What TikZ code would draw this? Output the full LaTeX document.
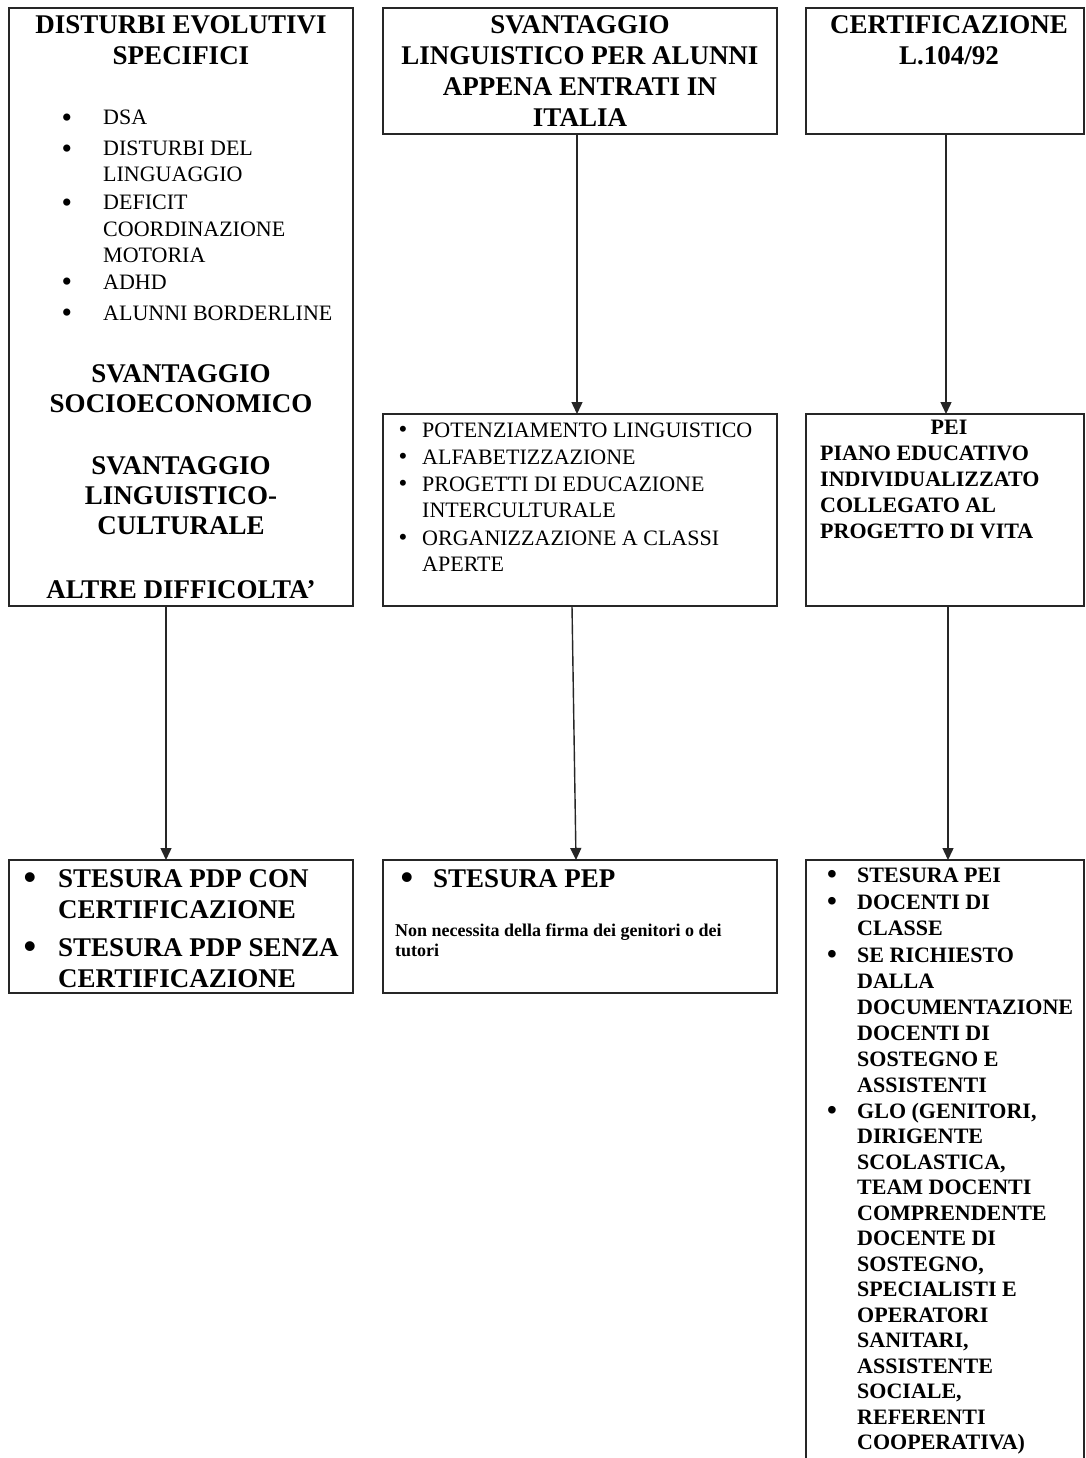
\documentclass[tikz,border=0pt]{standalone}
\usepackage{fontspec}
\setmainfont{Liberation Serif}
\usetikzlibrary{arrows.meta}
\begin{document}
\begin{tikzpicture}[x=1pt,y=-1pt,
  box/.style={draw=black!85, line width=1.4pt, inner sep=0pt, outer sep=0pt, anchor=north west},
  hd/.style={inner sep=0pt, anchor=base, font=\fontsize{27}{31}\selectfont\bfseries},
  hdl/.style={inner sep=0pt, anchor=base west, font=\fontsize{27}{31}\selectfont\bfseries},
  lst/.style={inner sep=0pt, anchor=base west, font=\fontsize{22}{26}\selectfont},
  lstb/.style={inner sep=0pt, anchor=base west, font=\fontsize{22}{26}\selectfont\bfseries},
  bula/.style={inner sep=0pt, anchor=base, yshift=-2.6pt, font=\fontsize{30}{30}\selectfont},
  bulm/.style={inner sep=0pt, anchor=base, yshift=-0.6pt, font=\fontsize{25}{25}\selectfont},
  bulc/.style={inner sep=0pt, anchor=base, yshift=-1.9pt, font=\fontsize{28}{28}\selectfont\bfseries},
  bulbig/.style={inner sep=0pt, anchor=base, yshift=-2.9pt, font=\fontsize{36}{36}\selectfont\bfseries},
  small/.style={inner sep=0pt, anchor=base west, font=\fontsize{18}{20}\selectfont\bfseries},
  arr/.style={draw=black!85, line width=1.4pt, -{Triangle[length=12pt,width=11pt]}},
]
\useasboundingbox (0,0) rectangle (1085,1458);
\fill[white] (0,0) rectangle (1085,1458);
\clip (0,0) rectangle (1085,1458);

% boxes
\node[box, minimum width=344pt, minimum height=598pt] (a1) at (9,8) {};
\node[box, minimum width=394pt, minimum height=126pt] (b1) at (383,8) {};
\node[box, minimum width=278pt, minimum height=126pt] (c1) at (806,8) {};
\node[box, minimum width=394pt, minimum height=192pt] (b2) at (383,414) {};
\node[box, minimum width=278pt, minimum height=192pt] (c2) at (806,414) {};
\node[box, minimum width=344pt, minimum height=133pt] (a3) at (9,860) {};
\node[box, minimum width=394pt, minimum height=133pt] (b3) at (383,860) {};
\node[box, minimum width=278pt, minimum height=640pt] (c3) at (806,860) {};

% arrows
\draw[arr] ([xshift=-15pt]a1.south) -- ([xshift=-15pt]a3.north);
\draw[arr] ([xshift=-3pt]b1.south) -- ([xshift=-3pt]b2.north);
\draw[arr] ([xshift=-8pt]b2.south) -- ([xshift=-4pt]b3.north);
\draw[arr] ([xshift=1pt]c1.south) -- ([xshift=1pt]c2.north);
\draw[arr] ([xshift=3pt]c2.south) -- ([xshift=3pt]c3.north);

% column A, top box
\node[hd] (a1t) at (181,34) {\begin{tabular}[t]{@{}c@{}}DISTURBI EVOLUTIVI\\SPECIFICI\end{tabular}};
\node[bula] (a1b1) at (67,125) {\textbullet};
\node[lst] (a1i1) at (103,125) {DSA};
\node[bula] (a1b2) at (67,156) {\textbullet};
\node[lst] (a1i2) at (103,156) {\begin{tabular}[t]{@{}l@{}}DISTURBI DEL\\LINGUAGGIO\end{tabular}};
\node[bula] (a1b3) at (67,210) {\textbullet};
\node[lst] (a1i3) at (103,210) {\begin{tabular}[t]{@{}l@{}}DEFICIT\\COORDINAZIONE\\MOTORIA\end{tabular}};
\node[bula] (a1b4) at (67,289) {\textbullet};
\node[lst] (a1i4) at (103,289) {ADHD};
\node[bula] (a1b5) at (67,320) {\textbullet};
\node[lst] (a1i5) at (103,320) {ALUNNI BORDERLINE};
\node[hd, font=\fontsize{27}{30}\selectfont\bfseries] (a1s) at (181,382) {\begin{tabular}[t]{@{}c@{}}SVANTAGGIO\\SOCIOECONOMICO\end{tabular}};
\node[hd, font=\fontsize{27}{30}\selectfont\bfseries] (a1l) at (181,474) {\begin{tabular}[t]{@{}c@{}}SVANTAGGIO\\LINGUISTICO-\\CULTURALE\end{tabular}};
\node[hd] (a1d) at (181,598) {ALTRE DIFFICOLTA'};

% column B, top box
\node[hd] (b1t) at (580,34) {\begin{tabular}[t]{@{}c@{}}SVANTAGGIO\\LINGUISTICO PER ALUNNI\\APPENA ENTRATI IN\\ITALIA\end{tabular}};

% column C, top box
\node[hd] (c1t) at (949,34) {\begin{tabular}[t]{@{}c@{}}CERTIFICAZIONE\\L.104/92\end{tabular}};

% column B, middle box
\node[bulm] (b2b1) at (403,437) {\textbullet};
\node[lst] (b2i1) at (422,437) {POTENZIAMENTO LINGUISTICO};
\node[bulm] (b2b2) at (403,464) {\textbullet};
\node[lst] (b2i2) at (422,464) {ALFABETIZZAZIONE};
\node[bulm] (b2b3) at (403,491) {\textbullet};
\node[lst] (b2i3) at (422,491) {\begin{tabular}[t]{@{}l@{}}PROGETTI DI EDUCAZIONE\\INTERCULTURALE\end{tabular}};
\node[bulm] (b2b4) at (403,545) {\textbullet};
\node[lst] (b2i4) at (422,545) {\begin{tabular}[t]{@{}l@{}}ORGANIZZAZIONE A CLASSI\\APERTE\end{tabular}};

% column C, middle box
\node[hd, font=\fontsize{22}{26}\selectfont\bfseries] (c2t) at (949,434) {PEI};
\node[lstb] (c2i) at (820,460) {\begin{tabular}[t]{@{}l@{}}PIANO EDUCATIVO\\INDIVIDUALIZZATO\\COLLEGATO AL\\PROGETTO DI VITA\end{tabular}};

% column A, bottom box
\node[bulbig] (a3b1) at (30,887) {\textbullet};
\node[hdl] (a3i1) at (58,887) {\begin{tabular}[t]{@{}l@{}}STESURA PDP CON\\CERTIFICAZIONE\end{tabular}};
\node[bulbig] (a3b2) at (30,956) {\textbullet};
\node[hdl] (a3i2) at (58,956) {\begin{tabular}[t]{@{}l@{}}STESURA PDP SENZA\\CERTIFICAZIONE\end{tabular}};

% column B, bottom box
\node[bulbig] (b3b1) at (407,887) {\textbullet};
\node[hdl] (b3i1) at (433,887) {STESURA PEP};
\node[small] (b3n) at (395,936) {\begin{tabular}[t]{@{}l@{}}Non necessita della firma dei genitori o dei\\tutori\end{tabular}};

% column C, bottom box
\node[bulc] (c3b1) at (832,882) {\textbullet};
\node[lstb] (c3i1) at (857,882) {STESURA PEI};
\node[bulc] (c3b2) at (832,909) {\textbullet};
\node[lstb] (c3i2) at (857,909) {\begin{tabular}[t]{@{}l@{}}DOCENTI DI\\CLASSE\end{tabular}};
\node[bulc] (c3b3) at (832,962) {\textbullet};
\node[lstb] (c3i3) at (857,962) {\begin{tabular}[t]{@{}l@{}}SE RICHIESTO\\DALLA\\DOCUMENTAZIONE\\DOCENTI DI\\SOSTEGNO E\\ASSISTENTI\end{tabular}};
\node[bulc] (c3b4) at (832,1118) {\textbullet};
\node[lstb, font=\fontsize{22}{25.5}\selectfont\bfseries] (c3i4) at (857,1118) {\begin{tabular}[t]{@{}l@{}}GLO (GENITORI,\\DIRIGENTE\\SCOLASTICA,\\TEAM DOCENTI\\COMPRENDENTE\\DOCENTE DI\\SOSTEGNO,\\SPECIALISTI E\\OPERATORI\\SANITARI,\\ASSISTENTE\\SOCIALE,\\REFERENTI\\COOPERATIVA)\end{tabular}};
\end{tikzpicture}
\end{document}
